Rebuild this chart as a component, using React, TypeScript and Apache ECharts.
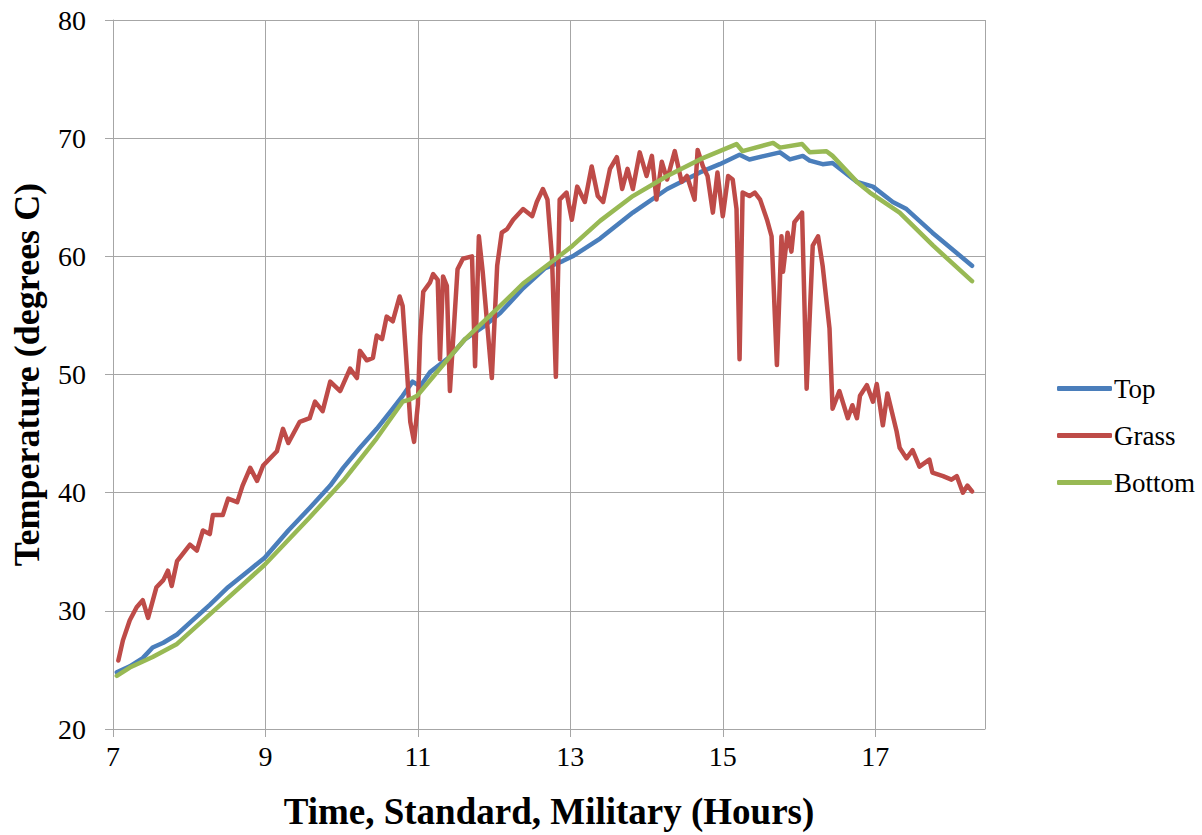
import React, { useEffect, useRef } from "react";
import * as echarts from "echarts";

const X_START = 7;
const X_END = 18.44;
const X_TICK_STEP = 2;
const Y_MIN = 20;
const Y_MAX = 80;
const Y_STEP = 10;

const seriesNames = ["Top", "Grass", "Bottom"];

const topHours = [7.05, 7.22, 7.39, 7.52, 7.66, 7.84, 8.01, 8.27, 8.51, 8.8, 8.99, 9.3, 9.58, 9.85, 10.02, 10.24, 10.46, 10.67, 10.8, 10.93, 11.03, 11.16, 11.42, 11.62, 11.85, 12.08, 12.38, 12.67, 12.9, 13.03, 13.39, 13.82, 14.27, 14.7, 14.96, 15.22, 15.35, 15.75, 15.88, 16.05, 16.14, 16.31, 16.44, 16.76, 16.97, 17.23, 17.41, 17.75, 18.27];
const topTemps = [24.8, 25.3, 26.0, 26.9, 27.3, 28.0, 29.0, 30.5, 32.0, 33.5, 34.5, 36.8, 38.7, 40.6, 42.1, 43.8, 45.4, 47.1, 48.2, 49.4, 49.0, 50.2, 51.5, 53.0, 54.0, 55.2, 57.3, 59.0, 59.6, 60.0, 61.5, 63.7, 65.7, 67.1, 67.8, 68.6, 68.2, 68.8, 68.2, 68.5, 68.1, 67.8, 67.9, 66.3, 65.9, 64.6, 64.0, 62.0, 59.2];

const grassHours = [7.07, 7.13, 7.22, 7.31, 7.39, 7.46, 7.57, 7.66, 7.72, 7.77, 7.84, 7.9, 8.01, 8.1, 8.18, 8.27, 8.31, 8.44, 8.51, 8.63, 8.7, 8.8, 8.89, 8.97, 9.15, 9.23, 9.3, 9.45, 9.58, 9.65, 9.75, 9.85, 9.98, 10.11, 10.2, 10.24, 10.33, 10.41, 10.46, 10.53, 10.59, 10.67, 10.76, 10.8, 10.84, 10.9, 10.95, 11.0, 11.03, 11.07, 11.16, 11.2, 11.26, 11.29, 11.33, 11.38, 11.42, 11.52, 11.59, 11.71, 11.75, 11.8, 11.85, 11.97, 12.04, 12.1, 12.17, 12.25, 12.38, 12.5, 12.56, 12.64, 12.7, 12.76, 12.81, 12.86, 12.95, 13.02, 13.09, 13.19, 13.28, 13.36, 13.43, 13.52, 13.61, 13.68, 13.75, 13.82, 13.91, 14.0, 14.07, 14.13, 14.2, 14.27, 14.37, 14.46, 14.53, 14.63, 14.67, 14.74, 14.8, 14.87, 14.93, 15.0, 15.07, 15.13, 15.18, 15.22, 15.26, 15.35, 15.42, 15.49, 15.58, 15.64, 15.71, 15.77, 15.79, 15.85, 15.9, 15.94, 16.04, 16.1, 16.18, 16.25, 16.31, 16.4, 16.44, 16.53, 16.64, 16.7, 16.76, 16.8, 16.89, 16.97, 17.02, 17.1, 17.16, 17.28, 17.32, 17.41, 17.49, 17.58, 17.71, 17.75, 17.89, 18.0, 18.07, 18.15, 18.21, 18.27];
const grassTemps = [25.8, 27.5, 29.2, 30.3, 30.9, 29.4, 32.0, 32.6, 33.4, 32.1, 34.2, 34.7, 35.6, 35.1, 36.8, 36.5, 38.1, 38.1, 39.5, 39.2, 40.6, 42.1, 41.0, 42.3, 43.5, 45.4, 44.2, 46.0, 46.3, 47.7, 46.9, 49.4, 48.6, 50.5, 49.7, 52.0, 51.2, 51.4, 53.3, 53.0, 54.9, 54.5, 56.6, 55.8, 52.0, 46.0, 44.3, 47.5, 53.3, 57.0, 57.8, 58.5, 58.0, 51.3, 58.3, 57.5, 48.6, 58.9, 59.8, 60.0, 50.7, 61.7, 58.7, 49.7, 59.2, 62.0, 62.3, 63.1, 64.0, 63.4, 64.6, 65.7, 64.8, 59.8, 49.8, 64.8, 65.4, 63.1, 65.9, 64.6, 67.6, 65.1, 64.6, 67.4, 68.4, 65.7, 67.4, 65.7, 68.8, 66.8, 68.5, 64.8, 68.0, 66.5, 68.9, 66.3, 66.8, 64.8, 69.0, 67.6, 66.8, 63.7, 67.1, 63.4, 66.8, 66.5, 64.0, 51.3, 65.4, 65.1, 65.4, 64.8, 63.1, 61.7, 50.8, 61.7, 58.7, 62.0, 60.4, 62.9, 63.7, 48.8, 60.9, 61.7, 59.2, 53.9, 47.1, 48.6, 46.3, 47.4, 46.3, 48.2, 49.1, 47.7, 49.2, 45.7, 48.4, 45.2, 43.8, 42.9, 43.6, 42.2, 42.8, 41.7, 41.4, 41.1, 41.4, 40.0, 40.6, 40.1];

const bottomHours = [7.05, 7.22, 7.52, 7.84, 8.27, 8.99, 9.58, 10.02, 10.46, 10.8, 10.9, 10.99, 11.42, 11.62, 12.08, 12.38, 12.77, 13.03, 13.39, 13.82, 14.27, 14.7, 15.18, 15.26, 15.66, 15.75, 16.04, 16.14, 16.36, 16.44, 16.76, 16.93, 17.32, 17.76, 18.27];
const bottomTemps = [24.5, 25.2, 26.1, 27.2, 29.7, 33.9, 37.9, 41.0, 44.6, 47.7, 47.9, 48.2, 51.5, 53.0, 55.8, 57.7, 59.6, 60.9, 63.0, 65.1, 66.8, 68.2, 69.5, 68.9, 69.6, 69.2, 69.5, 68.8, 68.9, 68.5, 66.3, 65.4, 63.7, 60.9, 57.9];

const colors = ["#4A7EBB", "#BE4B48", "#98B954"];
const FONT = '"Liberation Serif", "Times New Roman", serif';
const GRID_COLOR = "#A6A6A6";

function pairs(hours: number[], temps: number[]) {
  return hours.map((h, i) => [h - X_START, temps[i]]);
}

export default function App() {
  const ref = useRef<HTMLDivElement>(null);
  useEffect(() => {
    if (!ref.current) return;
    const chart = echarts.init(ref.current, undefined, { renderer: "svg" });
    const allData = [
      pairs(topHours, topTemps),
      pairs(grassHours, grassTemps),
      pairs(bottomHours, bottomTemps),
    ];
    chart.setOption({
      animation: false,
      backgroundColor: "#ffffff",
      grid: { left: 113, top: 20, right: 217, bottom: 103, containLabel: false },
      legend: {
        orient: "vertical",
        left: 1052,
        top: 370,
        icon: "roundRect",
        itemWidth: 55,
        itemHeight: 5,
        itemGap: 20,
        data: seriesNames,
        textStyle: { fontFamily: FONT, fontSize: 27, color: "#000", lineHeight: 27, padding: [0, 0, 0, -3] },
      },
      xAxis: {
        type: "value",
        min: 0,
        max: X_END - X_START,
        interval: X_TICK_STEP,
        name: "Time, Standard, Military (Hours)",
        nameLocation: "middle",
        nameGap: 64,
        nameTextStyle: { fontFamily: FONT, fontSize: 37, fontWeight: "bold", color: "#000" },
        axisLine: { show: true, lineStyle: { color: GRID_COLOR, width: 1 } },
        axisTick: { show: true, length: 8, lineStyle: { color: GRID_COLOR } },
        axisLabel: {
          fontFamily: FONT,
          fontSize: 28,
          color: "#000",
          margin: 13,
          formatter: (v: number) => String(Math.round(v + X_START)),
          showMaxLabel: false,
        },
        splitLine: { show: true, lineStyle: { color: GRID_COLOR, width: 1 } },
      },
      yAxis: {
        type: "value",
        min: Y_MIN,
        max: Y_MAX,
        interval: Y_STEP,
        name: "Temperature (degrees C)",
        nameLocation: "middle",
        nameGap: 68,
        nameTextStyle: { fontFamily: FONT, fontSize: 36, fontWeight: "bold", color: "#000" },
        axisLine: { show: true, lineStyle: { color: GRID_COLOR, width: 1 } },
        axisTick: { show: true, length: 8, lineStyle: { color: GRID_COLOR } },
        axisLabel: { fontFamily: FONT, fontSize: 28, color: "#000", margin: 27 },
        splitLine: { show: true, lineStyle: { color: GRID_COLOR, width: 1 } },
      },
      series: seriesNames.map((name, i) => ({
        name,
        type: "line",
        data: allData[i],
        showSymbol: false,
        symbol: "none",
        color: colors[i],
        lineStyle: { color: colors[i], width: 4.5, cap: "round", join: "round" },
      })),
    });
    return () => chart.dispose();
  }, []);
  return (
    <div
      ref={ref}
      style={{ position: "fixed", left: 0, top: 0, width: 1202, height: 835, background: "#fff" }}
    />
  );
}
